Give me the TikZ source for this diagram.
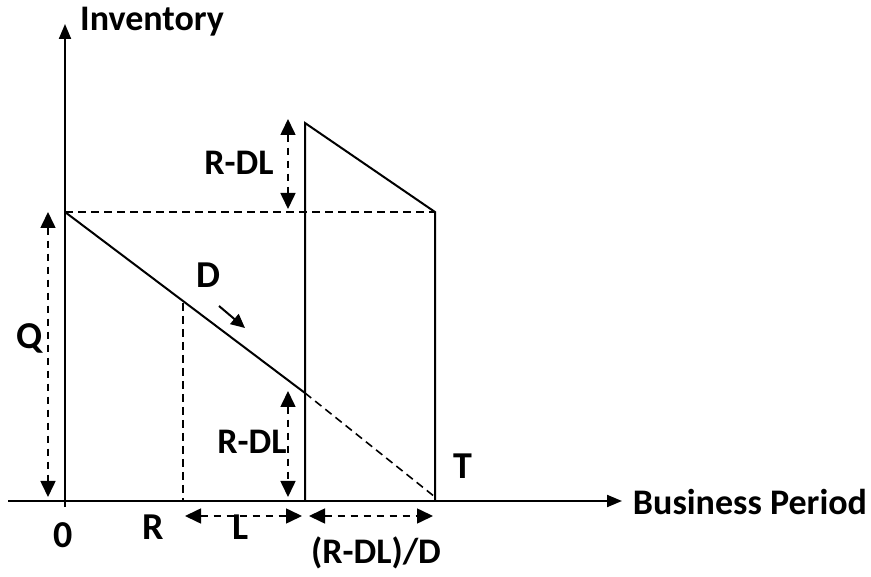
\documentclass[tikz,border=0pt]{standalone}
\usepackage{fontspec}
\setmainfont{Carlito}
\usetikzlibrary{arrows.meta}
\begin{document}
\begin{tikzpicture}[x=1pt,y=-1pt,
  lbl/.style={font=\bfseries\fontsize{36}{42}\selectfont, inner sep=0pt},
  big/.style={font=\bfseries\fontsize{38}{44}\selectfont, inner sep=0pt},
  axis/.style={line width=2pt,-{Triangle[length=15pt,width=12pt]}},
  solid line/.style={line width=2pt},
  dline/.style={line width=1.6pt, dash pattern=on 8pt off 5pt},
  darrow/.style={line width=1.6pt, dash pattern=on 7pt off 6pt,{Triangle[length=16pt,width=15pt]}-{Triangle[length=16pt,width=15pt]}}
]
\useasboundingbox (0,0) rectangle (871,577);
% coordinates
\coordinate (O) at (65,501);
\coordinate (ytop) at (65,24);
\coordinate (xl) at (8,501);
\coordinate (xr) at (622,501);
\coordinate (Qp) at (65,212);
\coordinate (Rp) at (183,303);
\coordinate (Rb) at (183,501);
\coordinate (Lp) at (305,393);
\coordinate (Lb) at (305,501);
\coordinate (Lt) at (305,123);
\coordinate (Tp) at (435,212);
\coordinate (Tb) at (435,501);
\coordinate (Te) at (435,497);
% axes
\draw[axis] (O) ++(0,6) -- (ytop);
\draw[axis] (xl) -- (xr);
% dashed horizontal Q
\draw[dline] (Qp) -- (Tp);
% inventory line
\draw[solid line] (Qp) -- (Lp);
\draw[dline] (Lp) -- (Te);
\draw[dline] (Rp) -- (Rb);
\draw[solid line] (Lb) -- (Lt) -- (Tp) -- (Tb);
% dimension arrows
\coordinate (q1) at (48,212); \coordinate (q2) at (48,497);
\draw[darrow] (q1) -- (q2);
\coordinate (u1) at (288,119); \coordinate (u2) at (288,209);
\draw[darrow] (u1) -- (u2);
\coordinate (d1) at (288,391); \coordinate (d2) at (288,497);
\draw[darrow] (d1) -- (d2);
\coordinate (l1) at (185,516); \coordinate (l2) at (302,516);
\draw[darrow] (l1) -- (l2);
\coordinate (r1) at (309,516); \coordinate (r2) at (433,516);
\draw[darrow] (r1) -- (r2);
% D arrow
\coordinate (da) at (219,306); \coordinate (db) at (245,328);
\draw[line width=2pt,-{Triangle[length=14pt,width=13pt]}] (da) -- (db);
% labels
\node[lbl] (inv) at (152,22) {Inventory};
\node[lbl] (bp) at (750,502) {Business Period};
\node[big] (zero) at (63,535) {0};
\node[big] (R) at (153,527) {R};
\node[big] (L) at (241,527) {L};
\node[lbl] (rdld) at (376,553) {(R-DL)/D};
\node[big] (Q) at (30,338) {Q};
\node[big] (T) at (463,466) {T};
\node[big] (D) at (208,275) {D};
\node[lbl] (rdlu) at (239,163) {R-DL};
\node[lbl] (rdll) at (252,442) {R-DL};
\end{tikzpicture}
\end{document}
